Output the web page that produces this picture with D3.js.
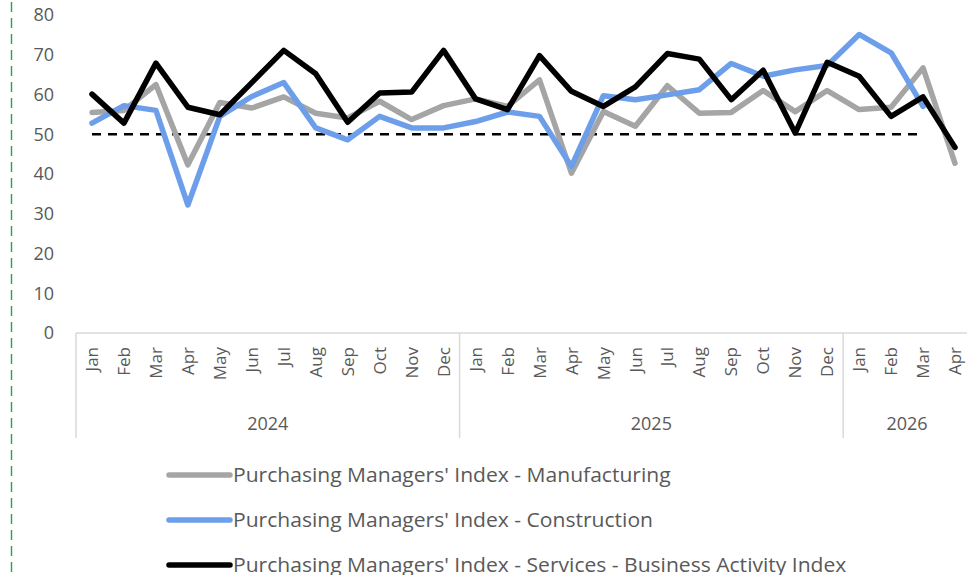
<!DOCTYPE html>
<html>
<head>
<meta charset="utf-8">
<script src="https://cdn.jsdelivr.net/npm/d3@7"></script>
<style>
  body { margin: 0; background: #fff; }
  svg { display: block; }
  text { font-family: "Open Sans", "Noto Sans", sans-serif; fill: #595959; }
</style>
</head>
<body>
<svg id="chart" width="967" height="575"></svg>
<script>
// ---- data ----
const monthLabels = ["Jan","Feb","Mar","Apr","May","Jun","Jul","Aug","Sep","Oct","Nov","Dec",
                     "Jan","Feb","Mar","Apr","May","Jun","Jul","Aug","Sep","Oct","Nov","Dec",
                     "Jan","Feb","Mar","Apr"];
const yearLabels = ["2024", "2025", "2026"];
const monthsPerYear = [12, 12, 4];

const manufacturing = [55.5, 56.0, 62.5, 42.3, 58.0, 56.6, 59.4, 55.3, 54.1, 58.3, 53.7, 57.2,
                       58.9, 57.0, 63.7, 40.2, 55.7, 52.0, 62.2, 55.3, 55.5, 61.0, 55.7, 61.0,
                       56.2, 56.8, 66.7, 42.7];
const construction = [52.8, 57.2, 56.0, 32.2, 54.5, 59.5, 63.0, 51.6, 48.6, 54.5, 51.6, 51.6,
                      53.2, 55.6, 54.5, 41.9, 59.7, 58.7, 59.9, 61.2, 67.8, 64.6, 66.2, 67.3,
                      75.1, 70.5, 57.0, null];
const services = [60.1, 52.8, 67.9, 56.8, 54.9, 63.0, 71.1, 65.2, 53.0, 60.4, 60.6, 71.1,
                  58.9, 56.2, 69.8, 60.8, 57.0, 61.9, 70.3, 68.9, 58.7, 66.1, 50.3, 68.1,
                  64.6, 54.5, 59.4, 46.7];
// 50 = expansion/contraction line, shown Jan 2024 .. Mar 2026
const threshold = [50,50,50,50,50,50,50,50,50,50,50,50,50,50,50,50,50,50,50,50,50,50,50,50,50,50,50];

const seriesNames = ["Purchasing Managers' Index - Manufacturing",
                     "Purchasing Managers' Index - Construction",
                     "Purchasing Managers' Index - Services - Business Activity Index"];
const seriesColors = ["#a5a5a5", "#6d9eea", "#000000"];
const yTicks = [0, 10, 20, 30, 40, 50, 60, 70, 80];

// ---- layout ----
const svg = d3.select("#chart");
const plotLeft = 76, plotRight = 971, plotTop = 15, plotBottom = 333;

const x = d3.scaleBand().domain(d3.range(monthLabels.length)).range([plotLeft, plotRight]).padding(0);
const y = d3.scaleLinear().domain([0, 80]).range([plotBottom, plotTop]);
const cx = i => x(i) + x.bandwidth() / 2;

// green dashed border line on the left
svg.append("line")
  .attr("x1", 11.5).attr("x2", 11.5).attr("y1", 2).attr("y2", 575)
  .attr("stroke", "#1fa64c").attr("stroke-width", 1.4).attr("stroke-dasharray", "10,6");

// y axis (labels only)
const yAxis = svg.append("g").attr("transform", `translate(${plotLeft - 22},0)`)
  .call(d3.axisLeft(y).tickValues(yTicks).tickSize(0).tickPadding(0));
yAxis.select(".domain").remove();
yAxis.selectAll("text").style("font-size", "18px").style("fill", "#595959");

// x axis with rotated month labels
const xAxis = svg.append("g").attr("transform", `translate(0,${plotBottom})`)
  .call(d3.axisBottom(x).tickSize(0).tickFormat(i => monthLabels[i]));
xAxis.select(".domain").attr("stroke", "#d9d9d9").attr("stroke-width", 1.5)
  .attr("d", `M${plotLeft},0H${plotRight + 5}`);
xAxis.selectAll("text")
  .style("font-size", "17px").style("fill", "#595959")
  .attr("text-anchor", "end")
  .attr("transform", "rotate(-90)")
  .attr("x", -14).attr("y", 0).attr("dy", "0.36em");

// year groups and separators
let start = 0;
const bounds = [0];
monthsPerYear.forEach(n => { start += n; bounds.push(start); });
const sepG = svg.append("g");
bounds.slice(0, -1).forEach(b => {
  const xx = b === 0 ? plotLeft : x(b);
  sepG.append("line")
    .attr("x1", xx).attr("x2", xx).attr("y1", plotBottom).attr("y2", 438)
    .attr("stroke", "#d9d9d9").attr("stroke-width", 1.5);
});
yearLabels.forEach((yr, k) => {
  const a = bounds[k] === 0 ? plotLeft : x(bounds[k]);
  const b = k === yearLabels.length - 1 ? plotRight : x(bounds[k + 1]);
  svg.append("text")
    .attr("x", (a + b) / 2).attr("y", 424).attr("dy", "0.35em")
    .attr("text-anchor", "middle").style("font-size", "18px")
    .text(yr);
});

// lines
const line = d3.line()
  .defined(d => d != null)
  .x((d, i) => cx(i))
  .y(d => y(d));

svg.append("path").datum(threshold)
  .attr("fill", "none").attr("stroke", "#000").attr("stroke-width", 2.5)
  .attr("stroke-dasharray", "9,7").attr("d", line);

[manufacturing, construction, services].forEach((s, k) => {
  svg.append("path").datum(s)
    .attr("fill", "none")
    .attr("stroke", seriesColors[k])
    .attr("stroke-width", 5.5)
    .attr("stroke-linejoin", "round")
    .attr("stroke-linecap", "round")
    .attr("d", line);
});

// legend (text stretched a bit: the original font runs wider)
const legend = svg.append("g");
seriesNames.forEach((name, k) => {
  const ly = 475 + k * 45;
  legend.append("line")
    .attr("x1", 169).attr("x2", 230).attr("y1", ly).attr("y2", ly)
    .attr("stroke", seriesColors[k]).attr("stroke-width", 5.5).attr("stroke-linecap", "round");
  const t = legend.append("text")
    .attr("x", 233).attr("y", ly).attr("dy", "0.35em")
    .style("font-size", "19.5px")
    .text(name);
  const w = t.node().getComputedTextLength();
  t.attr("textLength", w * 1.08).attr("lengthAdjust", "spacingAndGlyphs");
});
</script>
</body>
</html>
